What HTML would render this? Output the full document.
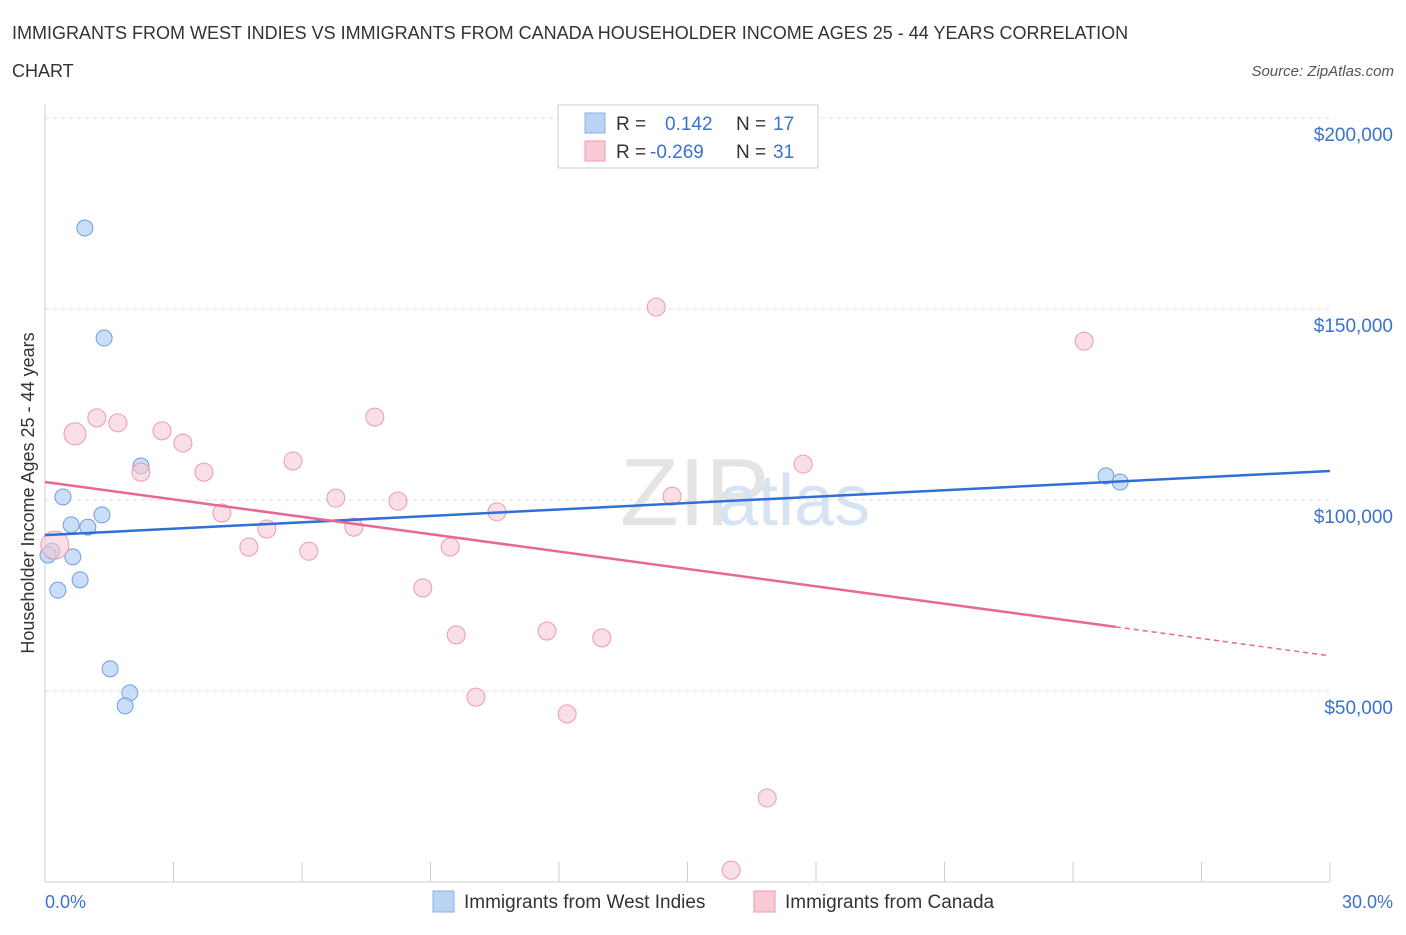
<!DOCTYPE html>
<html><head><meta charset="utf-8"><style>
body{margin:0;background:#fff;font-family:"Liberation Sans",sans-serif;}
svg text{font-family:"Liberation Sans",sans-serif;}
</style></head><body>
<svg width="1406" height="930" id="chart">
<text x="12" y="39" font-size="18" fill="#333">IMMIGRANTS FROM WEST INDIES VS IMMIGRANTS FROM CANADA HOUSEHOLDER INCOME AGES 25 - 44 YEARS CORRELATION</text>
<text x="12" y="77" font-size="18" fill="#333">CHART</text>
<text x="1394" y="76" font-size="15" fill="#555" font-style="italic" text-anchor="end">Source: ZipAtlas.com</text>
<text x="620" y="525" font-size="96" fill="#e4e4e4" font-family="Liberation Serif">ZIP</text>
<text x="718" y="525" font-size="72" fill="#d5e3f3">atlas</text>
<text transform="translate(34,493) rotate(-90)" font-size="18" fill="#333" text-anchor="middle">Householder Income Ages 25 - 44 years</text>
<g id="grid"></g><g id="marks"></g>
<g>
<rect x="558" y="105" width="260" height="63" fill="#fff" stroke="#ccc"/>
<rect x="585" y="113" width="20" height="20" fill="#b9d3f5" stroke="#8ab0e6"/>
<text x="616" y="130" font-size="19" fill="#333">R =</text><text x="665" y="130" font-size="19" fill="#3a72d0">0.142</text>
<text x="736" y="130" font-size="19" fill="#333">N =</text><text x="773" y="130" font-size="19" fill="#3a72d0">17</text>
<rect x="585" y="141" width="20" height="20" fill="#f9c9d6" stroke="#ef9ab2"/>
<text x="616" y="158" font-size="19" fill="#333">R =</text><text x="650" y="158" font-size="19" fill="#3a72d0">-0.269</text>
<text x="736" y="158" font-size="19" fill="#333">N =</text><text x="773" y="158" font-size="19" fill="#3a72d0">31</text>
</g>
<g>
<rect x="433" y="891" width="21" height="21" fill="#b9d3f5" stroke="#8ab0e6"/>
<text x="464" y="908" font-size="19" fill="#333">Immigrants from West Indies</text>
<rect x="754" y="891" width="21" height="21" fill="#f9c9d6" stroke="#ef9ab2"/>
<text x="785" y="908" font-size="19" fill="#333">Immigrants from Canada</text>
</g>
<text x="45" y="908" font-size="18" fill="#3a72d0">0.0%</text>
<text x="1393" y="908" font-size="18" fill="#3a72d0" text-anchor="end">30.0%</text>
</svg>
<script>
const yTicks=[50000,100000,150000,200000];
const yTickLabels=["$50,000","$100,000","$150,000","$200,000"];
const westX=[0.93,1.38,2.24,0.42,0.61,1.0,1.33,0.16,0.65,0.07,0.82,0.3,1.52,1.98,1.87,24.77,25.1];
const westY=[171.2,142.4,108.9,100.8,93.5,92.9,96.1,86.6,85.1,85.6,79.1,76.4,55.8,49.5,46.1,106.3,104.7];
const canX=[0.23,0.7,1.21,1.7,2.73,3.22,2.24,3.71,4.13,4.76,5.18,5.79,6.16,6.79,7.21,7.7,8.24,8.82,9.46,9.6,10.06,10.55,11.72,12.19,13.0,14.27,14.64,16.02,16.86,17.7,24.26];
const canY=[88.2,117.3,121.5,120.2,118.1,114.9,107.3,107.3,96.6,87.7,92.4,110.2,86.6,100.5,92.9,121.7,99.7,77.0,87.7,64.7,48.4,96.9,65.7,44.0,63.9,150.5,101.0,3.1,22.0,109.4,141.6];
const canR=[14,11,9,9,9,9,9,9,9,9,9,9,9,9,9,9,9,9,9,9,9,9,9,9,9,9,9,9,9,9,9];
const westTrend=[90.8,107.6];
const canTrend=[104.7,59.2];
const canSolidEnd=25;
const X=p=>45+p*(1285/30), Y=v=>882-v*0.00382;
const NS="http://www.w3.org/2000/svg";
const grid=document.getElementById('grid'), marks=document.getElementById('marks');
function mk(par,t,a){const e=document.createElementNS(NS,t);for(const k in a)e.setAttribute(k,a[k]);par.appendChild(e);return e;}
let ax=mk(grid,'line',{x1:45,y1:105,x2:45,y2:882,stroke:'#ccc'});


let xa=mk(grid,'line',{x1:45,y1:882,x2:1330,y2:882,stroke:'#ccc'});


for(let i=0;i<=10;i++){const t=mk(grid,'line',{x1:X(i*3),x2:X(i*3),y1:862,y2:882,stroke:'#ccc'});

}
yTicks.forEach((v,i)=>{const l=mk(grid,'line',{x1:45,x2:1330,y1:Y(v),y2:Y(v),stroke:'#ddd','stroke-dasharray':'4,4'});


const t=mk(grid,'text',{x:1393,y:Y(v)+23,'font-size':19,fill:'#3a72d0','text-anchor':'end'});t.textContent=yTickLabels[i];

});
westX.forEach((x,i)=>{const c=mk(marks,'circle',{cx:X(x),cy:Y(westY[i]*1000),r:8,fill:'rgba(185,211,245,0.75)',stroke:'#6f9ddf','stroke-width':1});

});
canX.forEach((x,i)=>{const c=mk(marks,'circle',{cx:X(x),cy:Y(canY[i]*1000),r:canR[i],fill:'rgba(249,201,214,0.6)',stroke:'#ec9ab1','stroke-width':1});

});
let wl=mk(marks,'line',{x1:X(0),y1:Y(westTrend[0]*1000),x2:X(30),y2:Y(westTrend[1]*1000),stroke:'#2f6fd6','stroke-width':2.5});


const cAt=p=>canTrend[0]+(canTrend[1]-canTrend[0])*p/30;
let cl=mk(marks,'line',{x1:X(0),y1:Y(cAt(0)*1000),x2:X(canSolidEnd),y2:Y(cAt(canSolidEnd)*1000),stroke:'#e76892','stroke-width':2.5});


let cd=mk(marks,'line',{x1:X(canSolidEnd),y1:Y(cAt(canSolidEnd)*1000),x2:X(30),y2:Y(cAt(30)*1000),stroke:'#e76892','stroke-width':1.5,'stroke-dasharray':'5,4'});


</script>
</body></html>
